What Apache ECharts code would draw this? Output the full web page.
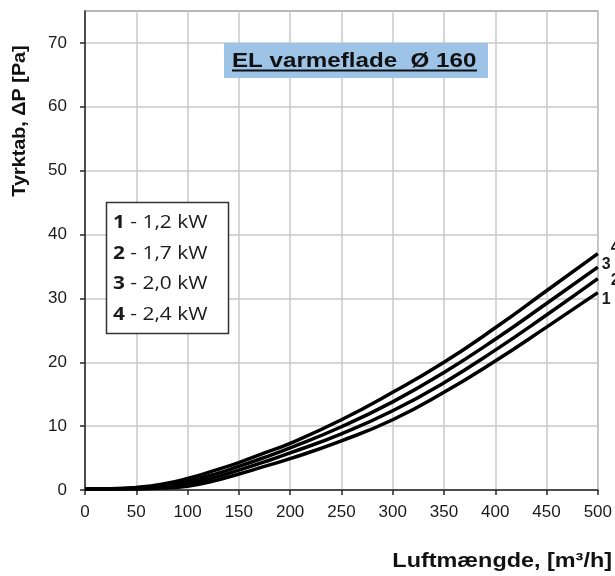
<!DOCTYPE html>
<html><head><meta charset="utf-8">
<script src="https://cdn.jsdelivr.net/npm/echarts@6/dist/echarts.min.js"></script>
<style>html,body{margin:0;padding:0;background:#fff}#c{width:615px;height:576px}</style>
</head><body><div id="c"></div>
<script>
const airflow = [0, 25, 50, 75, 100, 125, 150, 175, 200, 250, 300, 350, 400, 450, 500];
const curve1 = [0.2, 0.2, 0.2, 0.3, 0.6, 1.4, 2.5, 3.7, 4.9, 7.7, 11.0, 15.3, 20.2, 25.5, 30.9];
const curve2 = [0.2, 0.2, 0.2, 0.5, 1.0, 1.9, 3.1, 4.4, 5.8, 8.8, 12.4, 16.8, 21.9, 27.4, 33.1];
const curve3 = [0.2, 0.2, 0.3, 0.7, 1.4, 2.4, 3.7, 5.1, 6.6, 9.9, 13.8, 18.4, 23.6, 29.2, 34.9];
const curve4 = [0.2, 0.2, 0.4, 0.9, 1.8, 3.0, 4.3, 5.8, 7.3, 11.0, 15.3, 20.0, 25.4, 31.2, 37.0];
const curveNames = ['1', '2', '3', '4'];
const legendNums = ['1', '2', '3', '4'];
const legendPowers = ['1,2 kW', '1,7 kW', '2,0 kW', '2,4 kW'];
const xTicks = [0, 50, 100, 150, 200, 250, 300, 350, 400, 450, 500];
const yTicks = [0, 10, 20, 30, 40, 50, 60, 70];
const chartTitle = 'EL varmeflade  \u00D8 160';
const xName = 'Luftm\u00E6ngde, [m\u00B3/h]';
const yName = 'Tyrktab, \u0394P [Pa]';

const FONT = '"Liberation Sans", Arial, sans-serif';
const curves = [curve1, curve2, curve3, curve4];
const labelOffsets = [[0, 7], [9, 2], [0, -3], [9, -6]];

const chart = echarts.init(document.getElementById('c'), null, {renderer: 'canvas'});

const series = curves.map((vals, i) => ({
  name: curveNames[i],
  type: 'line',
  data: airflow.map((x, j) => [x, vals[j]]),
  smooth: 0.5,
  showSymbol: false,
  symbol: 'none',
  lineStyle: {color: '#000', width: 3.5},
  itemStyle: {color: '#000'},
  emphasis: {disabled: true},
  z: 3,
  endLabel: {
    show: true,
    formatter: curveNames[i],
    distance: 4,
    offset: labelOffsets[i],
    color: '#1a1a1a',
    fontSize: 16,
    fontWeight: 'bold',
    fontFamily: FONT
  }
}));

const legendGraphics = [{
  type: 'rect', z: 100,
  shape: {x: 106.5, y: 202.5, width: 122, height: 131},
  style: {fill: '#fff', stroke: '#333', lineWidth: 1.5}
}];
legendNums.forEach((n, i) => {
  legendGraphics.push({
    type: 'text', z: 101,
    x: 113, y: 223 + i * 30.5, scaleX: 1.16,
    style: {
      text: '{b|' + n + '} - ' + legendPowers[i],
      x: 0, y: 0, align: 'left', verticalAlign: 'middle',
      fill: '#1a1a1a', fontSize: 18, fontFamily: '"Open Sans", sans-serif',
      rich: {b: {fontWeight: 'bold', fontSize: 18, fontFamily: '"Open Sans", sans-serif', fill: '#1a1a1a'}}
    }
  });
});

chart.setOption({
  animation: false,
  backgroundColor: '#fff',
  grid: {left: 85, right: 17, top: 11, bottom: 86, show: true, borderColor: '#a0a0a0', borderWidth: 1.5, containLabel: false},
  xAxis: {
    type: 'value', min: 0, max: 500, interval: 25,
    axisLine: {show: true, onZero: false, lineStyle: {color: '#262626', width: 1.5}},
    axisTick: {show: true, customValues: xTicks, length: 5, lineStyle: {color: '#262626', width: 1.5}},
    axisLabel: {customValues: xTicks, fontSize: 17, color: '#1a1a1a', margin: 14, fontFamily: FONT},
    splitLine: {show: true, lineStyle: {color: '#c8c8c8', width: 1.5}}
  },
  yAxis: {
    type: 'value', min: 0, max: 75, interval: 5,
    axisLine: {show: true, lineStyle: {color: '#262626', width: 1.5}},
    axisTick: {show: true, customValues: yTicks, length: 5, lineStyle: {color: '#262626', width: 1.5}},
    axisLabel: {customValues: yTicks, fontSize: 17, color: '#1a1a1a', margin: 18, fontFamily: FONT},
    splitLine: {show: true, lineStyle: {color: '#c8c8c8', width: 1.5}}
  },
  series: series,
  graphic: [
    {type: 'rect', z: 100, shape: {x: 224, y: 43, width: 264, height: 35}, style: {fill: '#9dc3e6'}},
    {type: 'text', z: 101, x: 232, y: 61, scaleX: 1.15,
      style: {text: chartTitle, x: 0, y: 0, align: 'left', verticalAlign: 'middle', fill: '#111', fontSize: 21, fontWeight: 'bold', fontFamily: FONT}},
    {type: 'line', z: 101, shape: {x1: 232, y1: 70.5, x2: 477, y2: 70.5}, style: {stroke: '#111', lineWidth: 2}},
    {type: 'text', z: 101, x: 612, y: 561, scaleX: 1.17,
      style: {text: xName, x: 0, y: 0, align: 'right', verticalAlign: 'middle', fill: '#111', fontSize: 20, fontWeight: 'bold', fontFamily: FONT}},
    {type: 'text', z: 101, x: 20.5, y: 121, rotation: Math.PI / 2, scaleX: 1.1,
      style: {text: yName, x: 0, y: 0, align: 'center', verticalAlign: 'middle', fill: '#111', fontSize: 18, fontWeight: 'bold', fontFamily: FONT}}
  ].concat(legendGraphics)
});
</script>
</body></html>
